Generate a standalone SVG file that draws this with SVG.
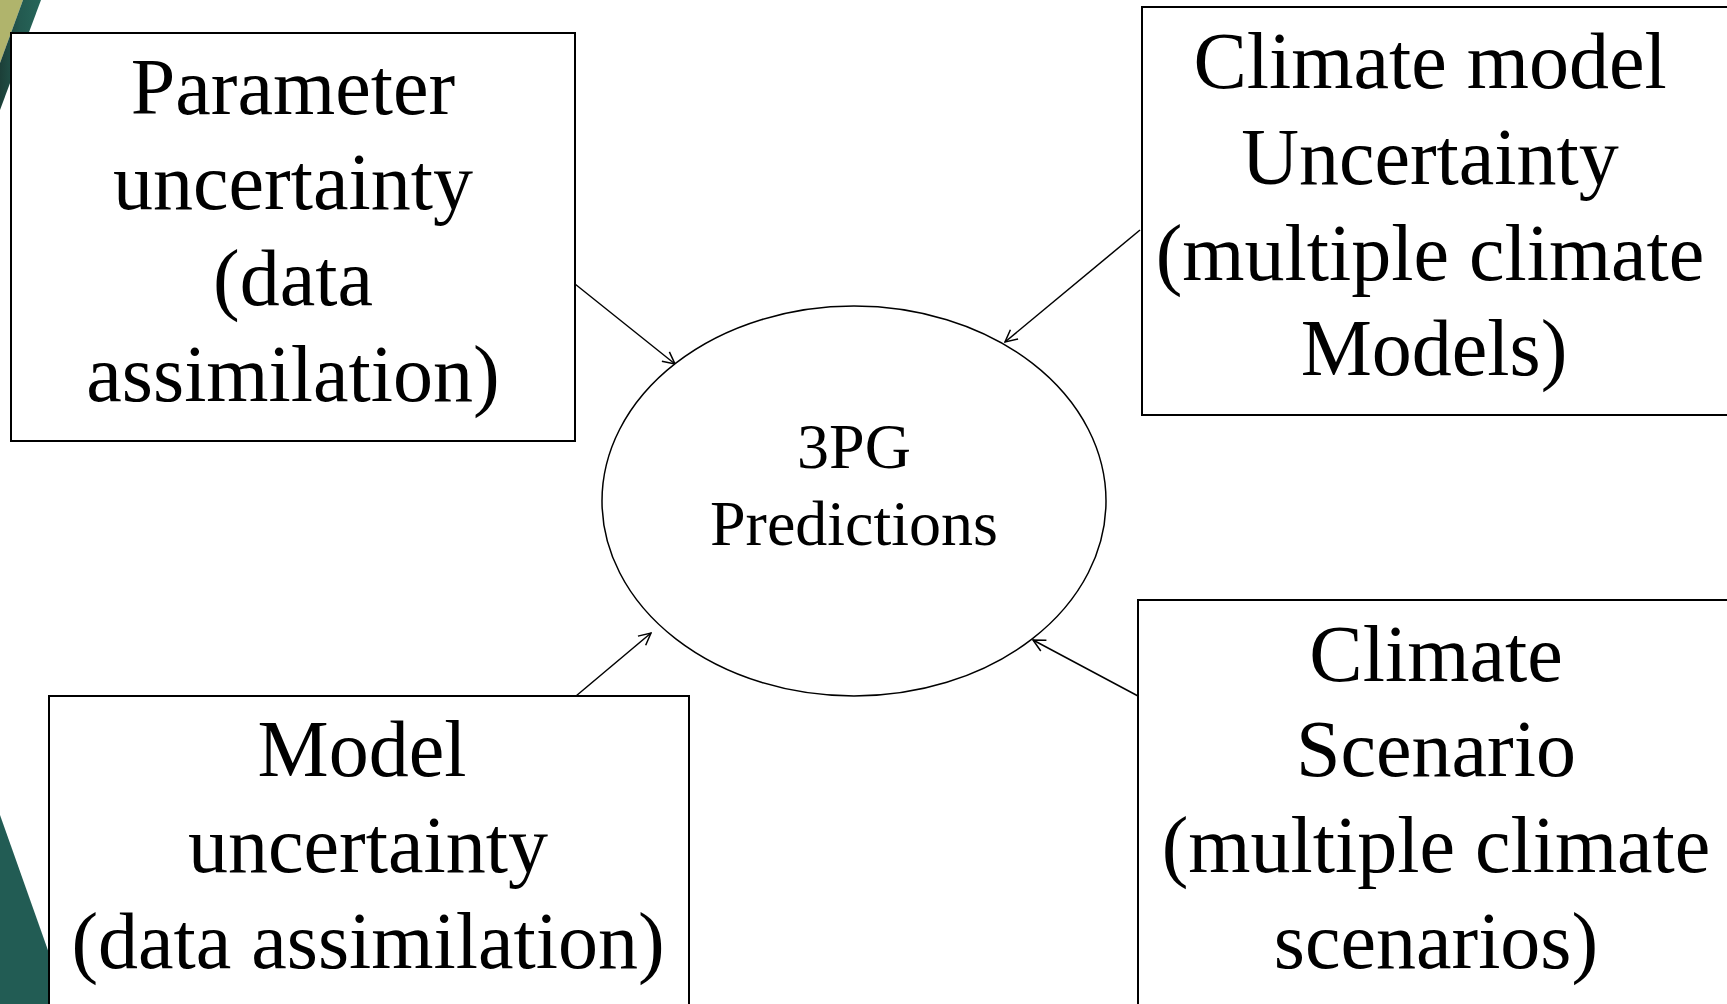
<svg xmlns="http://www.w3.org/2000/svg" width="1727" height="1004" viewBox="0 0 1727 1004">
<style>
.box{fill:#fff;stroke:#000;stroke-width:2}
.big{font-family:"Liberation Serif",serif;font-size:80px;fill:#000;text-anchor:middle}
.small{font-family:"Liberation Serif",serif;font-size:64px;fill:#000;text-anchor:middle}
.con{stroke:#000;stroke-width:1.5;fill:none}
</style>
<defs>
<marker id="arr" viewBox="0 0 14 14" refX="13" refY="7" markerWidth="14" markerHeight="14" markerUnits="userSpaceOnUse" orient="auto">
<path d="M1,1 L13,7 L1,13" fill="none" stroke="#000" stroke-width="1.5"/>
</marker>
<linearGradient id="teal" x1="0" y1="0" x2="1" y2="0">
<stop offset="0" stop-color="#1c3f38"/>
<stop offset="0.5" stop-color="#235a50"/>
<stop offset="1" stop-color="#27665a"/>
</linearGradient>
</defs>
<rect width="1727" height="1004" fill="#fff"/>
<g id="decor">
<polygon points="0,0 23,0 0,63" fill="#b0b46c"/>
<polygon points="23,0 41,0 0,110 0,63" fill="url(#teal)"/>
<polygon points="0,815 67,1004 0,1004" fill="#225c54"/>
</g>
<g id="connectors">
<line class="con" x1="575" y1="284" x2="675" y2="364" marker-end="url(#arr)"/>
<line class="con" x1="1140" y1="230" x2="1005" y2="342" marker-end="url(#arr)"/>
<line class="con" x1="576" y1="696" x2="651" y2="633" marker-end="url(#arr)"/>
<line class="con" x1="1138" y1="696" x2="1033" y2="640" marker-end="url(#arr)"/>
</g>
<g id="node-parameter">
<rect class="box" x="11" y="33" width="564" height="408"/>
<text class="big" x="293" y="114">Parameter</text>
<text class="big" x="293" y="209">uncertainty</text>
<text class="big" x="293" y="305">(data</text>
<text class="big" x="293" y="401">assimilation)</text>
</g>
<g id="node-climate-model">
<rect class="box" x="1142" y="7" width="600" height="408"/>
<text class="big" x="1430" y="88">Climate model</text>
<text class="big" x="1430" y="184">Uncertainty</text>
<text class="big" x="1430" y="280">(multiple climate</text>
<text class="big" x="1434" y="375">Models)</text>
</g>
<g id="node-model">
<rect class="box" x="49" y="696" width="640" height="320"/>
<text class="big" x="362" y="776">Model</text>
<text class="big" x="368" y="872">uncertainty</text>
<text class="big" x="368" y="968">(data assimilation)</text>
</g>
<g id="node-scenario">
<rect class="box" x="1138" y="600" width="600" height="420"/>
<text class="big" x="1436" y="681">Climate</text>
<text class="big" x="1436" y="776">Scenario</text>
<text class="big" x="1436" y="872">(multiple climate</text>
<text class="big" x="1436" y="968">scenarios)</text>
</g>
<g id="node-3pg">
<ellipse cx="854" cy="501" rx="252" ry="195" fill="#fff" stroke="#000" stroke-width="1.5"/>
<text class="small" x="854" y="468">3PG</text>
<text class="small" x="854" y="545">Predictions</text>
</g>
</svg>
